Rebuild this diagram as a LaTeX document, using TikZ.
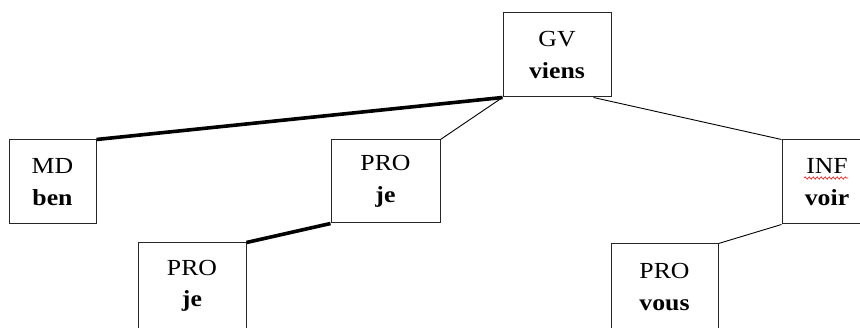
\documentclass[tikz,border=0pt]{standalone}
\usepackage{fontspec}
\setmainfont[FakeStretch=1.12]{Liberation Serif}
\usetikzlibrary{decorations.pathmorphing,calc}
\begin{document}
\begin{tikzpicture}[x=1pt,y=1pt,
  box/.style={draw=black!85, line width=1pt, inner sep=0pt, align=center,
    font=\fontsize{23}{31.5}\selectfont},
  thin/.style={line width=0.9pt},
  thick/.style={line width=3.6pt}]
\useasboundingbox (0,0) rectangle (860,327);
\clip (0,0) rectangle (860,327);
\node[box, minimum width=108, minimum height=84] (gv) at (557,272) {GV\\\textbf{viens}};
\node[box, minimum width=87, minimum height=84] (md) at (52.5,145) {MD\\\textbf{ben}};
\node[box, minimum width=109, minimum height=83] (pro1) at (385.5,145.5) {PRO\\\textbf{je}};
\node[box, minimum width=90, minimum height=84] (inf) at (827,145) {INF\\\textbf{voir}};
\node[box, minimum width=108, minimum height=86] (pro2) at (192,41) {PRO\\\textbf{je}};
\node[box, minimum width=107, minimum height=86] (pro3) at (664.5,40) {PRO\\\textbf{vous}};
\coordinate (gvr) at ($(gv.south east)+(-18,0)$);
\draw[thick] (gv.south west) -- (md.north east);
\draw[thin] (gv.south west) -- (pro1.north east);
\draw[thin] (gvr) -- (inf.north west);
\draw[thick] (pro1.south west) -- (pro2.north east);
\draw[thin] (inf.south west) -- (pro3.north east);
\draw[red, line width=0.6pt, decorate, decoration={snake, amplitude=1.1pt, segment length=4pt}] (804,149) -- (848,149);
\end{tikzpicture}
\end{document}
